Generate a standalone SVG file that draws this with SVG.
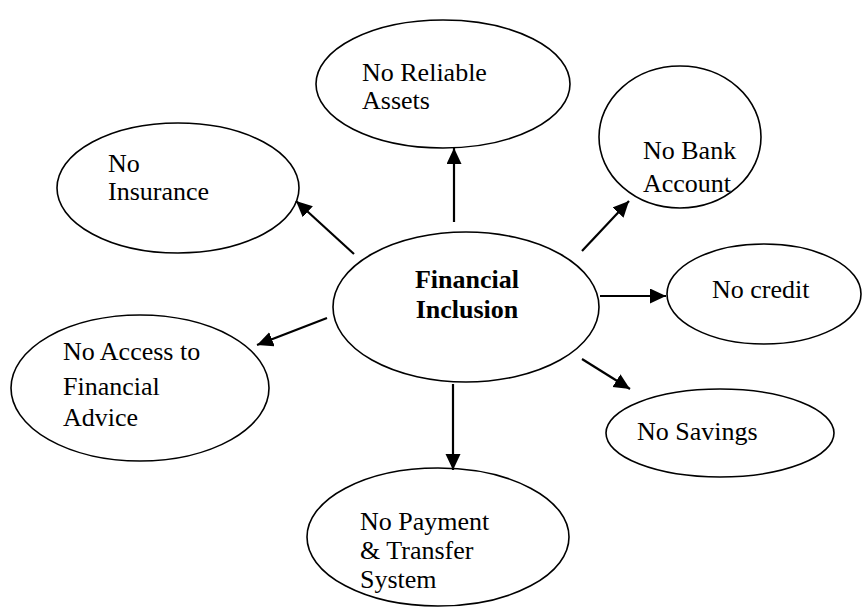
<svg xmlns="http://www.w3.org/2000/svg" width="864" height="608" viewBox="0 0 864 608">
  <style>
    .node ellipse { fill: #ffffff; stroke: #000000; stroke-width: 1.6; }
    text { font-family: "Liberation Serif", "Tinos", "Times New Roman", "DejaVu Serif", serif; font-size: 26px; fill: #000000; }
    .bold { font-weight: bold; text-anchor: middle; }
    .edges line { stroke: #000000; stroke-width: 2.2; marker-end: url(#arrow); }
  </style>
  <defs>
    <marker id="arrow" markerUnits="userSpaceOnUse" markerWidth="18" markerHeight="16" refX="16" refY="7.5" orient="auto">
      <path d="M0,0 L16,7.5 L0,15 z" fill="#000000"/>
    </marker>
  </defs>
  <rect width="864" height="608" fill="#ffffff"/>

  <g font-family="Liberation Serif, Tinos, Times New Roman, DejaVu Serif, serif">
    <g id="center" class="node">
      <ellipse cx="466" cy="307" rx="133" ry="75"/>
      <text class="bold" x="467" y="288">Financial</text>
      <text class="bold" x="467" y="318">Inclusion</text>
    </g>

    <g id="reliable-assets" class="node">
      <ellipse cx="443" cy="84" rx="127" ry="64"/>
      <text x="362" y="81">No Reliable</text>
      <text x="362" y="109">Assets</text>
    </g>

    <g id="bank-account" class="node">
      <ellipse cx="680" cy="137" rx="81" ry="71"/>
      <text x="643" y="159">No Bank</text>
      <text x="643" y="192">Account</text>
    </g>

    <g id="credit" class="node">
      <ellipse cx="764" cy="294" rx="97" ry="50"/>
      <text x="712" y="298">No credit</text>
    </g>

    <g id="savings" class="node">
      <ellipse cx="720" cy="433" rx="114" ry="44"/>
      <text x="637" y="440">No Savings</text>
    </g>

    <g id="payment" class="node">
      <ellipse cx="438" cy="537" rx="131" ry="69"/>
      <text x="360" y="530">No Payment</text>
      <text x="360" y="559">&amp; Transfer</text>
      <text x="360" y="588">System</text>
    </g>

    <g id="advice" class="node">
      <ellipse cx="140" cy="388" rx="129" ry="73"/>
      <text x="63" y="360">No Access to</text>
      <text x="63" y="395">Financial</text>
      <text x="63" y="426">Advice</text>
    </g>

    <g id="insurance" class="node">
      <ellipse cx="178" cy="188" rx="121" ry="65"/>
      <text x="108" y="172">No</text>
      <text x="108" y="200">Insurance</text>
    </g>
  </g>

  <g id="connectors" class="edges">
    <line x1="454" y1="222" x2="454" y2="148"/>
    <line x1="582" y1="251" x2="629" y2="201"/>
    <line x1="600" y1="296" x2="666" y2="296"/>
    <line x1="582" y1="359" x2="630" y2="389"/>
    <line x1="453" y1="384" x2="453" y2="470"/>
    <line x1="327" y1="318" x2="257" y2="345"/>
    <line x1="354" y1="254" x2="296" y2="201"/>
  </g>
</svg>
